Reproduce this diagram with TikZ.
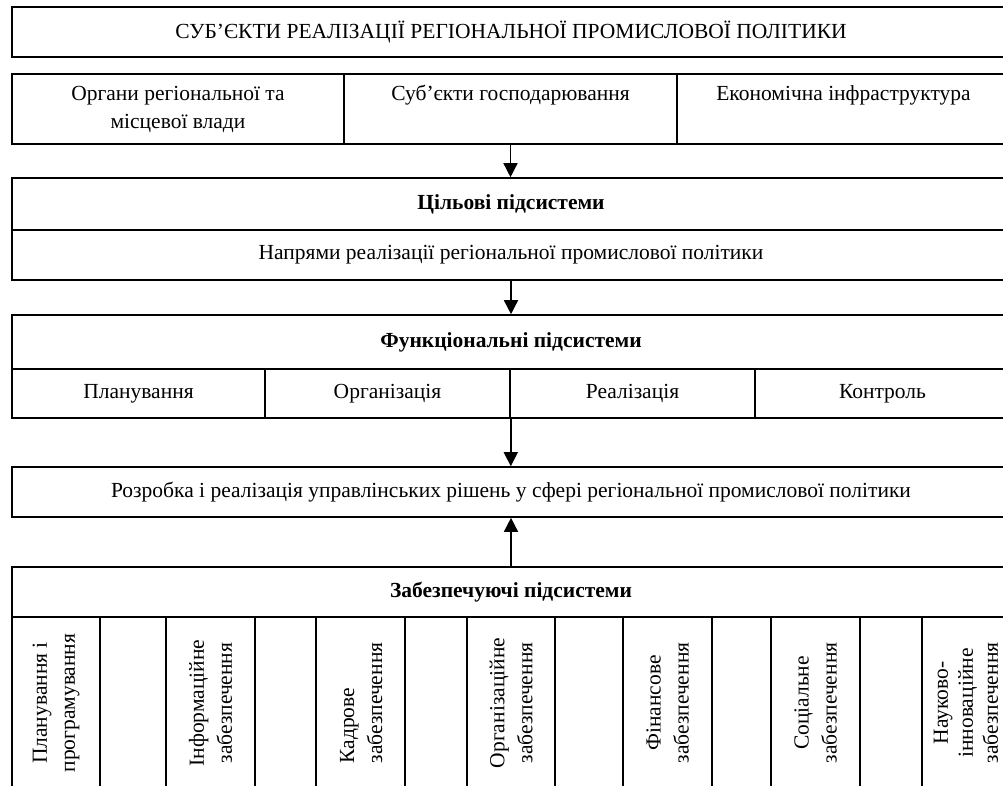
\documentclass[tikz,border=0pt]{standalone}
\usepackage{fontspec}
\setmainfont{Liberation Serif}
\usetikzlibrary{arrows.meta}
\begin{document}
\begin{tikzpicture}[x=1pt,y=-1pt,
  every node/.style={font=\fontsize{21.5}{28}\selectfont},
  box/.style={draw,line width=1.6pt,inner sep=0pt,align=center,minimum height=#1},
  arr/.style={line width=1.5pt,-{Triangle[width=14pt,length=14pt]}}]
\useasboundingbox (0,0) rectangle (1003,785);
\clip (0,0) rectangle (1003,785);

\node[box=50pt,minimum width=998pt] (subj) at (511,32) {СУБ’ЄКТИ РЕАЛІЗАЦІЇ РЕГІОНАЛЬНОЇ ПРОМИСЛОВОЇ ПОЛІТИКИ};
\node[box=70pt,minimum width=332pt] (vlada) at (178,109) {\strut Органи регіональної та\\\strut місцевої влади};
\node[box=70pt,minimum width=333pt] (gosp) at (510.5,109) {\strut Суб’єкти господарювання\\\strut};
\node[box=70pt,minimum width=333pt] (infra) at (843.5,109) {\strut Економічна інфраструктура\\\strut};

\node[box=52pt,minimum width=998pt] (tsil) at (511,204) {\textbf{Цільові підсистеми}};
\node[box=50pt,minimum width=998pt] (napr) at (511,255) {Напрями реалізації регіональної промислової політики};

\node[box=54pt,minimum width=998pt] (funk) at (511,342) {\textbf{Функціональні підсистеми}};
\node[box=49pt,minimum width=253pt] (plan) at (138.5,393.5) {Планування};
\node[box=49pt,minimum width=245pt] (orgz) at (387.5,393.5) {Організація};
\node[box=49pt,minimum width=245pt] (real) at (632.5,393.5) {Реалізація};
\node[box=49pt,minimum width=255pt] (kontr) at (882.5,393.5) {Контроль};

\node[box=50pt,minimum width=998pt] (rozr) at (511,492) {Розробка і реалізація управлінських рішень у сфері регіональної промислової політики};

\node[box=50pt,minimum width=998pt] (zab) at (511,592) {\textbf{Забезпечуючі підсистеми}};
\foreach \x/\w/\t [count=\i] in {
    56/88/{Планування і\\програмування}, 133/66/{},
    210.5/89/{Інформаційне\\забезпечення}, 285.5/61/{},
    360.5/89/{\rlap{Кадрове}\phantom{забезпечення}\\забезпечення}, 436/62/{},
    511/88/{Організаційне\\забезпечення}, 589/68/{},
    667.5/89/{Фінансове\\забезпечення}, 741.5/59/{},
    815.5/89/{Соціальне\\забезпечення}, 891/62/{},
    966/88/{Науково-\\[-3pt]інноваційне\\[-3pt]забезпечення}}
  \node[box=\w,minimum width=172pt,rotate=90] (col\i) at (\x,703) {\t};

\draw[arr] (gosp.south) -- (gosp.south |- tsil.north);
\draw[arr] (napr.south) -- (funk.north);
\draw[arr] (orgz.south east) -- (orgz.south east |- rozr.north);
\draw[arr] (zab.north) -- (rozr.south);
\end{tikzpicture}
\end{document}
